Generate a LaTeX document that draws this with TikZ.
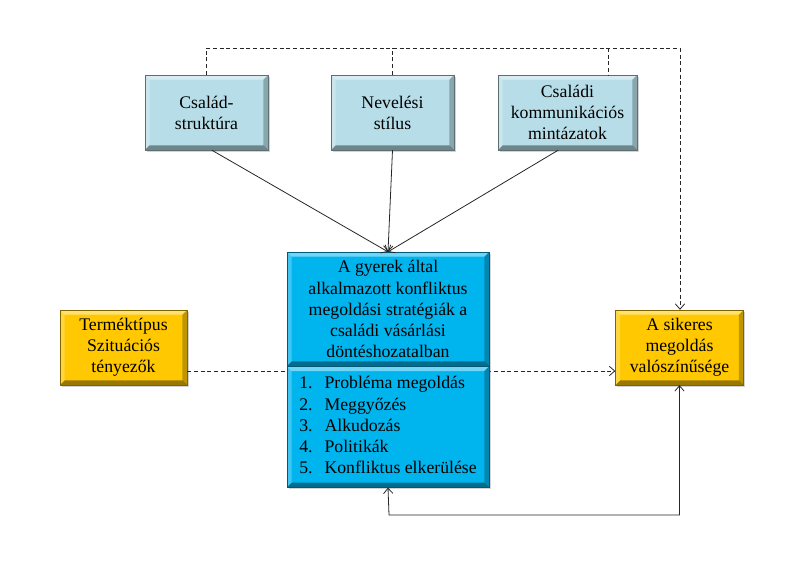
\documentclass[tikz,border=0pt]{standalone}
\usepackage{fontspec}
\setmainfont{Liberation Serif}
\usetikzlibrary{positioning, arrows.meta, shadows}
\definecolor{factBlue}{HTML}{B7DEE8}
\definecolor{stratBlue}{HTML}{00B4EE}
\definecolor{outGold}{HTML}{FFC800}
\tikzset{
  bevel/.style={path picture={
    \coordinate (bNW) at (path picture bounding box.north west);
    \coordinate (bNE) at (path picture bounding box.north east);
    \coordinate (bSW) at (path picture bounding box.south west);
    \coordinate (bSE) at (path picture bounding box.south east);
    \fill[white, opacity=.45] (bNW) -- (bNE) -- ([shift={(-3.5pt,-3.5pt)}]bNE) -- ([shift={(3.5pt,-3.5pt)}]bNW) -- cycle;
    \fill[white, opacity=.25] (bNW) -- (bSW) -- ([shift={(3.5pt,3.5pt)}]bSW) -- ([shift={(3.5pt,-3.5pt)}]bNW) -- cycle;
    \fill[black, opacity=.40] (bSW) -- (bSE) -- ([shift={(-3.5pt,3.5pt)}]bSE) -- ([shift={(3.5pt,3.5pt)}]bSW) -- cycle;
    \fill[black, opacity=.25] (bNE) -- (bSE) -- ([shift={(-3.5pt,3.5pt)}]bSE) -- ([shift={(-3.5pt,-3.5pt)}]bNE) -- cycle;
  }},
  baseBox/.style={rectangle, bevel, align=center, inner sep=2pt, line width=0.3pt,
    font=\fontsize{13.3}{15.8}\selectfont,
    drop shadow={shadow xshift=1.2pt, shadow yshift=-1.2pt, opacity=.35}},
  factBox/.style={baseBox, fill=factBlue, draw=factBlue!50!black, minimum width=92.25pt, minimum height=56.25pt},
  stratBox/.style={baseBox, fill=stratBlue, draw=stratBlue!50!black, minimum width=151.5pt},
  goldBox/.style={baseBox, fill=outGold, draw=outGold!50!black, minimum width=95.25pt, minimum height=56.25pt},
  solidArr/.style={line width=0.6pt, black!85, -{Straight Barb[length=4pt, width=7pt]}},
  dashArr/.style={line width=0.6pt, black!85, dash pattern=on 3pt off 2pt},
}

\begin{document}
\begin{tikzpicture}[x=0.75pt, y=-0.75pt]
\useasboundingbox (0,0) rectangle (788,584);

% felso tenyezok
\node (csal) [factBox] at (206.5,112.5) {Család-\\struktúra};
\node (nev) [factBox] at (392.5,112.5) {Nevelési\\stílus};
\node (komm) [factBox, minimum width=104.25pt] at (567.5,112.5) {Családi\\kommunikációs\\mintázatok};

% szaggatott vonalak a boxok mogott
\coordinate (topR) at (680,48);
\coordinate (kommTop) at (608,48);
\coordinate (loop) at (389,515);
\node (term) [goldBox] at (123.5,347.5) {Terméktípus\\Szituációs\\tényezők};
\node (sik) [goldBox, minimum width=96pt] at (679.5,347.5) {A sikeres\\megoldás\\valószínűsége};
\draw [dashArr] (csal.north) |- (topR);
\draw [dashArr, -{Straight Barb[length=4pt, width=7pt]}] (topR) -- (topR |- sik.north);
\draw [dashArr] (nev.north) -- (nev.north |- topR);
\draw [dashArr] (kommTop) -- (kommTop |- komm.north);
\draw [dashArr, -{Straight Barb[length=4pt, width=7pt]}] (term.east |- 0,371) -- (sik.west |- 0,371);

% kozepso doboz
\node (strat) [stratBox, minimum height=85.5pt] at (388,309) {A gyerek által\\alkalmazott konfliktus\\megoldási stratégiák a\\családi vásárlási\\döntéshozatalban};
\node (list) [stratBox, below=0pt of strat, minimum height=90.75pt] {\begin{tabular}{@{}l@{\hspace{9pt}}l@{}}
1. & Probléma megoldás\\
2. & Meggyőzés\\
3. & Alkudozás\\
4. & Politikák\\
5. & Konfliktus elkerülése
\end{tabular}};

\draw [solidArr] ([xshift=4pt]csal.south) -- (strat.north);
\draw [solidArr] (nev.south) -- (strat.north);
\draw [solidArr] ([xshift=-7pt]komm.south) -- (strat.north);
\draw [solidArr, {Straight Barb[length=4pt, width=7pt]}-{Straight Barb[length=4pt, width=7pt]}] (list.south) -- (loop) -| (sik.south);
\end{tikzpicture}
\end{document}
